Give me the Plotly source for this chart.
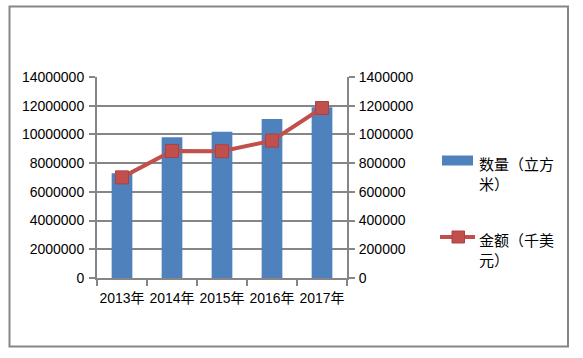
import plotly.graph_objects as go

categories = ["2013年", "2014年", "2015年", "2016年", "2017年"]
quantity = [7290000, 9810000, 10180000, 11070000, 11900000]   # 数量（立方米）
amount = [701000, 885000, 883000, 957000, 1184000]            # 金额（千美元）
left_ticks = [0, 2000000, 4000000, 6000000, 8000000, 10000000, 12000000, 14000000]
right_ticks = [0, 200000, 400000, 600000, 800000, 1000000, 1200000, 1400000]

W, H = 583, 358
L, R, T, B = 97, 236, 77, 80
PW, PH = W - L - R, H - T - B

def px(x):
    return (x - L) / PW

def py(y):
    return (H - B - y) / PH

GRAY = "#868686"
BLUE = "#4F81BD"
RED = "#C0504D"
FONT = "Liberation Sans, Arial, Noto Sans CJK SC"

fig = go.Figure()
fig.add_trace(go.Bar(x=categories, y=quantity, marker=dict(color=BLUE, line=dict(width=0)),
                     name="数量（立方米）", yaxis="y"))
fig.add_trace(go.Scatter(x=categories, y=amount, mode="lines+markers", name="金额（千美元）",
                         line=dict(color=RED, width=4),
                         marker=dict(symbol="square", size=13, color=RED,
                                     line=dict(color="#B0403D", width=1)),
                         yaxis="y2"))

axis_common = dict(showline=True, linecolor=GRAY, linewidth=2, ticks="outside",
                   ticklen=6, tickwidth=2, tickcolor=GRAY, automargin=False,
                   tickfont=dict(family=FONT, size=14, color="#000000"))

fig.update_layout(
    width=W, height=H,
    margin=dict(l=L, r=R, t=T, b=B, pad=0),
    paper_bgcolor="white", plot_bgcolor="white",
    showlegend=False,
    bargap=0.586,
    xaxis=dict(type="category", tickson="boundaries", range=[-0.5, 4.5], tickangle=0,
               showgrid=False, ticklabelstandoff=6, **axis_common),
    yaxis=dict(range=[0, 14000000], tickvals=left_ticks,
               ticktext=[str(v) for v in left_ticks],
               showgrid=True, gridcolor=GRAY, gridwidth=2, zeroline=False,
               ticklabelstandoff=2, **axis_common),
    yaxis2=dict(range=[0, 1400000], tickvals=right_ticks,
                ticktext=[str(v) for v in right_ticks],
                overlaying="y", side="right", showgrid=False, zeroline=False,
                ticklabelstandoff=1, **axis_common),
)

shapes = []
# chart border
shapes.append(dict(type="rect", xref="paper", yref="paper",
                   x0=px(9.5), x1=px(568), y0=py(346.5), y1=py(6.5),
                   line=dict(color=GRAY, width=2), fillcolor="rgba(0,0,0,0)", layer="below"))
# legend: bar swatch
shapes.append(dict(type="rect", xref="paper", yref="paper",
                   x0=px(442), x1=px(473), y0=py(165.5), y1=py(155.5),
                   line=dict(width=0), fillcolor=BLUE))
# legend: line swatch
shapes.append(dict(type="line", xref="paper", yref="paper",
                   x0=px(440), x1=px(475), y0=py(237), y1=py(237),
                   line=dict(color=RED, width=4)))
shapes.append(dict(type="rect", xref="paper", yref="paper",
                   x0=px(452), x1=px(464.5), y0=py(243), y1=py(231),
                   line=dict(color="#B0403D", width=1), fillcolor=RED))
fig.update_layout(shapes=shapes)

legend_items = [("数量（立方<br>米）", 151), ("金额（千美<br>元）", 227)]
for txt, ytop in legend_items:
    fig.add_annotation(text=txt, xref="paper", yref="paper", x=px(477), y=py(ytop),
                       xanchor="left", yanchor="top", align="left", showarrow=False,
                       font=dict(family="Noto Sans CJK SC", size=15, color="#000000"))

fig.write_html("out.html",
               config={"displayModeBar": False},
               post_script="document.body.style.margin='0';document.body.style.padding='0';")
